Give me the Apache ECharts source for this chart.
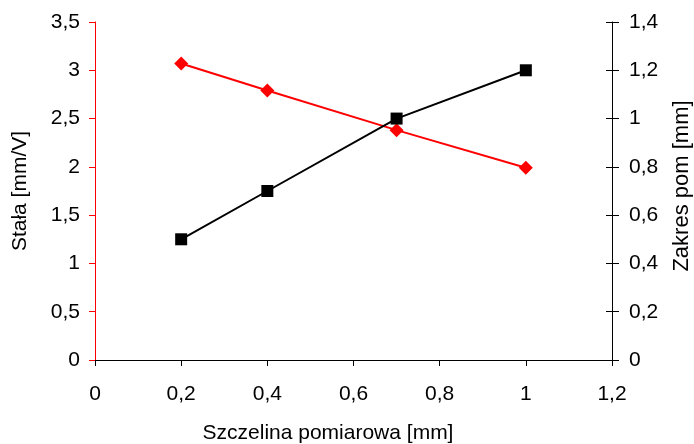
<!DOCTYPE html>
<html>
<head>
<meta charset="utf-8">
<script src="https://cdn.jsdelivr.net/npm/echarts@6/dist/echarts.min.js"></script>
<style>
  html, body { margin: 0; padding: 0; background: #fff; }
  #chart { width: 694px; height: 444px; }
</style>
</head>
<body>
<div id="chart"></div>
<script>
// Measurement data: gap width vs. sensor constant and measuring range
const gapMm = [0.2, 0.4, 0.7, 1.0];
const constantMmPerV = [3.07, 2.79, 2.38, 1.99];
const rangeMm = [0.5, 0.7, 1.0, 1.2];

const xTitle = 'Szczelina pomiarowa [mm]';
const leftTitle = 'Stała [mm/V]';
const rightTitle = 'Zakres pom [mm]';

const FONT = '"Liberation Sans", Arial, sans-serif';
const comma = v => String(+(+v).toFixed(2)).replace('.', ',');

const chart = echarts.init(document.getElementById('chart'), null, { renderer: 'canvas' });

chart.setOption({
  backgroundColor: '#ffffff',
  animation: false,
  textStyle: { fontFamily: FONT },
  grid: { left: 95, right: 82, top: 22, bottom: 84, containLabel: false },
  xAxis: {
    type: 'value',
    min: 0, max: 1.2, interval: 0.2,
    axisLine: { onZero: false, lineStyle: { color: '#000', width: 1 } },
    axisTick: { show: true, inside: false, length: 6, lineStyle: { color: '#000' } },
    axisLabel: { color: '#000', fontSize: 21, fontFamily: FONT, margin: 24, formatter: comma },
    splitLine: { show: false }
  },
  yAxis: [
    {
      type: 'value',
      position: 'left',
      min: 0, max: 3.5, interval: 0.5,
      axisLine: { show: true, lineStyle: { color: '#ff0000', width: 1 } },
      axisTick: { show: true, inside: false, length: 6, lineStyle: { color: '#ff0000' } },
      axisLabel: { color: '#000', fontSize: 21, fontFamily: FONT, margin: 15, formatter: comma },
      splitLine: { show: false }
    },
    {
      type: 'value',
      position: 'right',
      min: 0, max: 1.4, interval: 0.2,
      axisLine: { show: true, lineStyle: { color: '#000', width: 1 } },
      axisTick: { show: false },
      axisLabel: { color: '#000', fontSize: 21, fontFamily: FONT, margin: 17, formatter: comma },
      splitLine: { show: false }
    },
    {
      // inward half of the crossing ticks on the right axis
      type: 'value',
      position: 'right',
      min: 0, max: 1.4, interval: 0.2,
      axisLine: { show: false },
      axisTick: { show: true, inside: true, length: 6, lineStyle: { color: '#000' } },
      axisLabel: { show: false },
      splitLine: { show: false }
    },
    {
      // outward half of the crossing ticks on the right axis
      type: 'value',
      position: 'right',
      min: 0, max: 1.4, interval: 0.2,
      axisLine: { show: false },
      axisTick: { show: true, inside: false, length: 7, lineStyle: { color: '#000' } },
      axisLabel: { show: false },
      splitLine: { show: false }
    }
  ],
  graphic: [
    {
      type: 'text', x: 20, y: 191, rotation: Math.PI / 2,
      style: { text: leftTitle, fill: '#000', font: '21px ' + FONT, textAlign: 'center', textVerticalAlign: 'middle' }
    },
    {
      type: 'text', x: 682, y: 186, rotation: Math.PI / 2,
      style: { text: rightTitle, fill: '#000', font: '22px ' + FONT, textAlign: 'center', textVerticalAlign: 'middle' }
    },
    {
      type: 'text', x: 328, y: 433,
      style: { text: xTitle, fill: '#000', font: '21px ' + FONT, textAlign: 'center', textVerticalAlign: 'middle' }
    }
  ],
  series: [
    {
      name: leftTitle,
      type: 'line',
      yAxisIndex: 0,
      data: gapMm.map((x, i) => [x, constantMmPerV[i]]),
      symbol: 'diamond',
      symbolSize: 14,
      lineStyle: { color: '#ff0000', width: 2 },
      itemStyle: { color: '#ff0000' },
      z: 2
    },
    {
      name: rightTitle,
      type: 'line',
      yAxisIndex: 1,
      data: gapMm.map((x, i) => [x, rangeMm[i]]),
      symbol: 'rect',
      symbolSize: 12,
      lineStyle: { color: '#000000', width: 2 },
      itemStyle: { color: '#000000' },
      z: 3
    }
  ]
});
</script>
</body>
</html>
